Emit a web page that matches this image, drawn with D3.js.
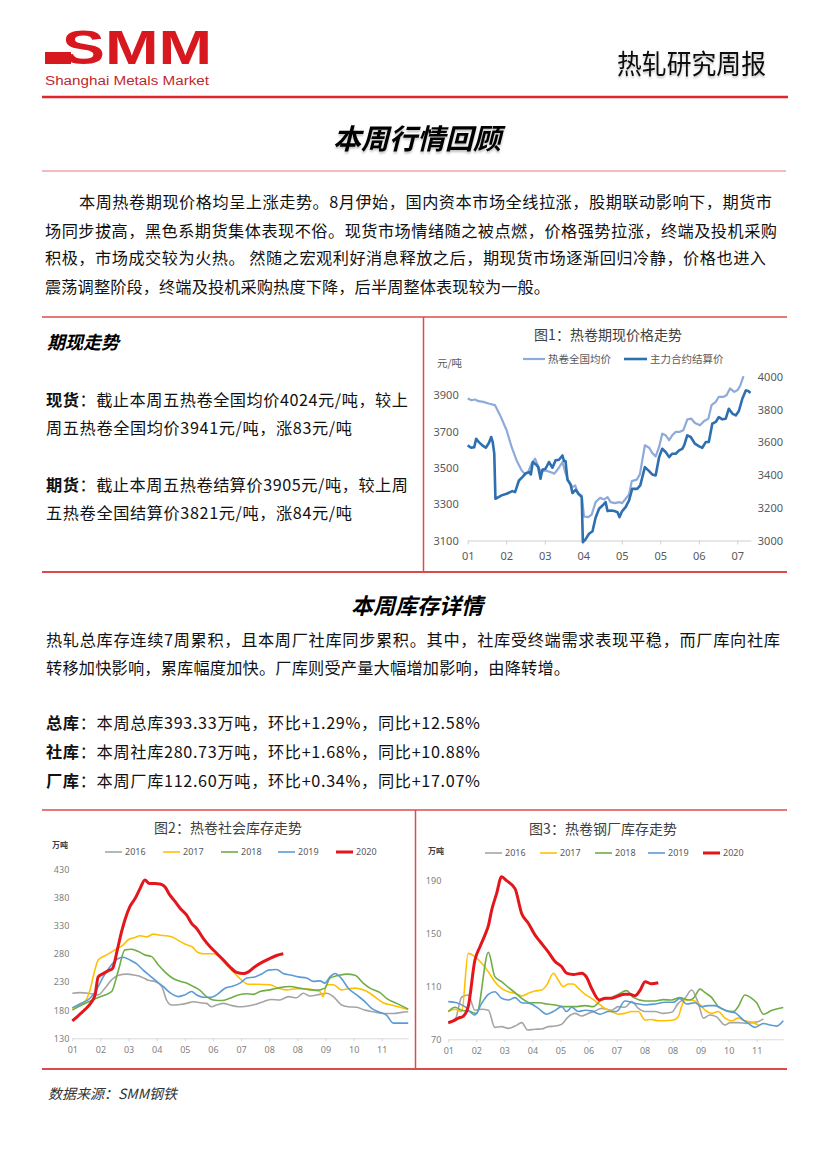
<!DOCTYPE html>
<html><head><meta charset="utf-8">
<script src="https://cdn.jsdelivr.net/npm/d3@7/dist/d3.min.js"></script>
<style>
body{margin:0;background:#fff;}
svg{display:block;}
text{font-family:'Noto Sans CJK SC','Noto Sans',sans-serif;}
</style></head>
<body>
<script>
// ---------------- DATA ----------------
// Figure 1: hot-rolled coil spot vs futures price (t = position in x-label units)
const fig1Labels = ["01","02","03","04","05","05","06","07"];
const fig1LeftTicks = [3100,3300,3500,3700,3900];
const fig1RightTicks = [3000,3200,3400,3600,3800,4000];
const spotPrice = [[0,3882],[0.10,3872],[0.19,3876],[0.28,3867],[0.41,3863],[0.54,3854],[0.71,3845],[0.84,3790],[1.01,3707],[1.14,3615],[1.27,3541],[1.40,3486],[1.49,3464],[1.57,3477],[1.66,3523],[1.75,3551],[1.82,3514],[1.90,3477],[2.01,3486],[2.14,3477],[2.25,3468],[2.35,3495],[2.46,3532],[2.53,3477],[2.61,3431],[2.72,3394],[2.79,3403],[2.87,3357],[2.96,3348],[3.02,3232],[3.13,3229],[3.22,3243],[3.32,3311],[3.44,3335],[3.54,3326],[3.63,3339],[3.71,3311],[3.82,3306],[3.93,3311],[4.01,3306],[4.10,3330],[4.19,3354],[4.26,3427],[4.39,3435],[4.47,3464],[4.60,3624],[4.71,3611],[4.79,3582],[4.88,3563],[4.97,3615],[5.05,3688],[5.14,3679],[5.23,3652],[5.31,3679],[5.40,3698],[5.51,3698],[5.60,3707],[5.70,3766],[5.80,3771],[5.90,3747],[6.03,3734],[6.14,3758],[6.25,3771],[6.33,3845],[6.44,3863],[6.52,3891],[6.64,3891],[6.72,3900],[6.81,3937],[6.92,3918],[7.01,3928],[7.08,3955],[7.16,4005]];
const futuresPrice = [[0,3582],[0.09,3567],[0.17,3571],[0.22,3622],[0.29,3602],[0.38,3582],[0.47,3567],[0.55,3596],[0.61,3633],[0.65,3602],[0.69,3531],[0.72,3255],[0.88,3276],[1.01,3286],[1.16,3302],[1.23,3296],[1.33,3367],[1.42,3388],[1.51,3412],[1.59,3418],[1.64,3404],[1.69,3480],[1.77,3465],[1.83,3449],[1.89,3378],[1.94,3433],[2.02,3439],[2.11,3480],[2.20,3445],[2.28,3490],[2.37,3494],[2.46,3520],[2.50,3486],[2.54,3486],[2.59,3371],[2.67,3343],[2.72,3290],[2.80,3310],[2.89,3282],[2.96,3265],[2.99,2990],[3.05,3004],[3.15,3041],[3.24,3057],[3.32,3139],[3.41,3194],[3.50,3214],[3.58,3235],[3.63,3180],[3.72,3184],[3.81,3180],[3.89,3173],[3.94,3143],[4.01,3180],[4.10,3204],[4.19,3245],[4.27,3316],[4.40,3316],[4.48,3337],[4.60,3449],[4.69,3429],[4.79,3404],[4.88,3398],[4.97,3510],[5.05,3561],[5.14,3541],[5.23,3510],[5.31,3531],[5.40,3531],[5.49,3551],[5.57,3561],[5.62,3582],[5.70,3643],[5.79,3633],[5.90,3592],[6.01,3576],[6.09,3567],[6.18,3602],[6.26,3602],[6.35,3714],[6.44,3725],[6.52,3755],[6.61,3741],[6.70,3745],[6.78,3806],[6.87,3776],[6.96,3765],[7.04,3792],[7.13,3867],[7.22,3918],[7.29,3914],[7.34,3902]];

// Figure 2: social inventory (万吨)
const invLabels = ["01","02","03","04","05","06","07","08","08","09","10","11"];
const years = ["2016","2017","2018","2019","2020"];
const fig2Ticks = [130,180,230,280,330,380,430];
const social2016 = [[0,210],[0.27,211],[0.57,210],[0.92,207],[1.16,219],[1.40,234],[1.64,242],[1.93,244],[2.23,242],[2.46,239],[2.70,233],[2.94,231],[3.18,222],[3.35,198],[3.53,189],[3.83,190],[4.06,192],[4.30,195],[4.54,193],[4.77,192],[4.95,186],[5.13,189],[5.37,192],[5.60,189],[5.90,186],[6.20,187],[6.49,190],[6.79,195],[7.09,199],[7.38,198],[7.68,204],[7.97,202],[8.21,210],[8.45,205],[8.80,208],[9.04,210],[9.28,204],[9.57,189],[9.81,186],[10.11,185],[10.40,180],[10.70,177],[11.05,174],[11.41,174],[11.71,176],[11.94,177]];
const social2017 = [[0,183],[0.21,189],[0.45,195],[0.63,216],[0.77,245],[0.92,269],[1.22,278],[1.52,287],[1.81,296],[1.99,305],[2.23,309],[2.41,312],[2.64,310],[2.88,315],[3.12,313],[3.35,312],[3.59,309],[3.83,302],[4.06,296],[4.24,293],[4.48,282],[4.72,280],[5.01,280],[5.19,276],[5.37,266],[5.66,251],[5.96,236],[6.26,226],[6.55,226],[7.03,225],[7.32,219],[7.62,216],[7.97,218],[8.27,218],[8.57,216],[8.80,213],[8.92,204],[9.04,225],[9.28,225],[9.57,216],[9.81,218],[10.05,219],[10.34,216],[10.58,210],[10.82,201],[11.05,193],[11.35,189],[11.65,185],[11.94,181]];
const social2018 = [[0,180],[0.21,186],[0.51,193],[0.86,201],[1.16,207],[1.40,213],[1.64,251],[1.87,287],[2.11,288],[2.35,284],[2.58,278],[2.82,275],[3.06,260],[3.29,248],[3.53,238],[3.77,232],[4.06,228],[4.30,222],[4.54,215],[4.77,204],[5.01,198],[5.31,197],[5.60,201],[5.90,207],[6.20,209],[6.43,208],[6.67,213],[7.03,216],[7.38,220],[7.74,222],[8.09,219],[8.33,217],[8.68,215],[8.98,219],[9.16,237],[9.40,241],[9.75,244],[10.05,242],[10.34,228],[10.58,219],[10.94,211],[11.17,201],[11.53,192],[11.94,182]];
const social2019 = [[0,184],[0.27,191],[0.63,201],[0.86,216],[1.10,239],[1.34,257],[1.58,270],[1.81,274],[2.05,269],[2.29,262],[2.52,251],[2.76,241],[3.00,231],[3.23,222],[3.47,211],[3.77,204],[4.00,207],[4.24,213],[4.42,207],[4.66,203],[4.95,203],[5.13,207],[5.43,219],[5.66,222],[5.96,228],[6.20,237],[6.49,239],[6.73,244],[6.97,251],[7.26,252],[7.50,245],[7.80,242],[8.03,239],[8.33,237],[8.57,231],[8.80,232],[8.98,228],[9.16,239],[9.34,245],[9.57,236],[9.81,219],[10.11,207],[10.40,195],[10.64,183],[10.88,177],[11.17,171],[11.41,157],[11.65,157],[11.94,157]];
const social2020 = [[0,161],[0.21,170],[0.45,181],[0.69,195],[0.81,207],[0.92,239],[1.10,245],[1.28,250],[1.43,254],[1.60,287],[1.75,319],[1.87,340],[2.05,364],[2.23,378],[2.41,396],[2.58,411],[2.74,405],[2.94,405],[3.12,404],[3.29,399],[3.47,384],[3.65,373],[3.83,361],[4.06,349],[4.24,334],[4.42,325],[4.66,307],[4.89,293],[5.13,281],[5.37,269],[5.60,257],[5.84,247],[6.08,245],[6.26,248],[6.49,257],[6.79,266],[7.03,272],[7.26,277],[7.50,280]];

// Figure 3: steel mill inventory (万吨)
const fig3Ticks = [70,110,150,190];
const mill2016 = [[0,82],[0.24,84.6],[0.48,102],[0.71,103.5],[0.95,92],[1.19,92.7],[1.43,92],[1.66,79],[1.90,79.6],[2.14,78.3],[2.38,80],[2.62,82.6],[2.83,77],[3.09,77.6],[3.33,77.8],[3.57,79.6],[3.80,80],[4.04,81.3],[4.28,87],[4.52,89.6],[4.76,87.6],[4.99,89.6],[5.23,91.4],[5.47,93.4],[5.83,92],[6.06,94.7],[6.30,94.2],[6.54,98.5],[6.78,93.4],[7.02,91],[7.37,91],[7.67,89.6],[7.97,90.4],[8.20,97.2],[8.44,101],[8.68,107.3],[8.92,97.2],[9.10,86],[9.33,88.4],[9.57,87],[9.87,80.8],[10.05,82.6],[10.34,82.6],[10.64,82],[10.82,82.6],[11.06,83.4],[11.24,85.4]];
const mill2017 = [[0,91],[0.24,92.7],[0.48,91],[0.71,135],[0.95,132.5],[1.19,127.5],[1.43,121],[1.66,113.6],[1.90,108.6],[2.14,106],[2.38,104.8],[2.62,102.8],[2.85,104.8],[3.09,106.5],[3.33,107.3],[3.51,111],[3.75,120],[3.92,114.9],[4.10,109.8],[4.28,111.8],[4.46,111.8],[4.64,108.6],[4.88,104],[5.11,101],[5.35,97.2],[5.59,93.4],[5.83,91],[6.06,89],[6.30,89.6],[6.54,91],[6.78,91],[7.02,84.6],[7.25,85],[7.49,84],[7.73,84],[8.03,84.6],[8.20,87],[8.32,94.7],[8.44,100],[8.68,99.7],[8.92,97.2],[9.16,92],[9.39,89.6],[9.63,91],[9.87,86],[10.11,84],[10.34,86],[10.58,84],[10.82,83],[11.06,80.8]];
const mill2018 = [[0,91],[0.24,94.2],[0.48,92],[0.77,91],[1.01,89.6],[1.43,135.8],[1.66,117.4],[1.90,113.6],[2.14,109.3],[2.38,105.3],[2.62,101],[2.91,97.7],[3.27,97.7],[3.51,96.7],[3.80,96],[4.16,94.7],[4.52,94.7],[4.88,95.5],[5.17,94.7],[5.47,100],[5.83,101.7],[6.06,104],[6.36,106.8],[6.60,101.7],[7.02,99],[7.37,99],[7.67,100],[7.97,99.7],[8.26,101.5],[8.56,99.7],[8.74,101],[8.98,108],[9.16,105.3],[9.39,101.7],[9.63,94.7],[9.87,92],[10.17,91],[10.34,94.7],[10.58,103.5],[10.82,101],[11.00,97.7],[11.24,89],[11.53,91.7],[11.95,94]];
const mill2019 = [[0,98.5],[0.30,97.7],[0.59,94.7],[0.95,88.4],[1.19,97.2],[1.43,104],[1.66,106],[1.90,101],[2.14,99.7],[2.38,101.5],[2.62,97.7],[2.91,97.2],[3.21,93.4],[3.51,89],[3.80,91.7],[4.04,94.7],[4.22,91],[4.40,94.2],[4.64,91],[4.88,92],[5.11,91.5],[5.41,89],[5.71,91],[6.00,91],[6.30,99],[6.66,97.2],[7.02,96],[7.37,96.7],[7.73,98],[8.03,98],[8.26,101],[8.50,96.7],[8.80,97.7],[9.04,94.7],[9.27,95.5],[9.51,95.5],[9.75,93.4],[9.99,91],[10.23,90],[10.52,84.6],[10.70,82],[10.94,79],[11.24,82],[11.47,80.8],[11.71,80],[11.95,84]];
const mill2020 = [[0,82.6],[0.18,84],[0.36,86],[0.54,87.6],[0.71,94.7],[0.95,130],[1.13,140],[1.31,149],[1.43,156],[1.55,168],[1.72,180],[1.90,193],[2.08,190],[2.38,184],[2.62,165],[2.85,158],[3.09,149],[3.27,144],[3.57,136],[3.80,129],[4.04,125],[4.22,120],[4.46,119],[4.76,120],[4.93,117],[5.11,108.6],[5.39,99.7],[5.59,101],[5.83,101],[6.06,102.8],[6.30,104],[6.48,104],[6.66,103],[6.84,107],[7.02,113.6],[7.25,112],[7.49,112.8]];

// ---------------- TEXT ----------------
const introLines = [
  "本周热卷期现价格均呈上涨走势。8月伊始，国内资本市场全线拉涨，股期联动影响下，期货市",
  "场同步拔高，黑色系期货集体表现不俗。现货市场情绪随之被点燃，价格强势拉涨，终端及投机采购",
  "积极，市场成交较为火热。 然随之宏观利好消息释放之后，期现货市场逐渐回归冷静，价格也进入",
  "震荡调整阶段，终端及投机采购热度下降，后半周整体表现较为一般。"
];
const invText = [
  "热轧总库存连续7周累积，且本周厂社库同步累积。其中，社库受终端需求表现平稳，而厂库向社库",
  "转移加快影响，累库幅度加快。厂库则受产量大幅增加影响，由降转增。"
];
const invStats = [
  ["总库：","本周总库393.33万吨，环比+1.29%，同比+12.58%"],
  ["社库：","本周社库280.73万吨，环比+1.68%，同比+10.88%"],
  ["厂库：","本周厂库112.60万吨，环比+0.34%，同比+17.07%"]
];

// ---------------- DRAW ----------------
const svg = d3.select("body").append("svg").attr("width",827).attr("height",1170);
const defs = svg.append("defs");
const f = defs.append("filter").attr("id","soft").attr("x","-10%").attr("y","-10%").attr("width","120%").attr("height","140%");
f.append("feDropShadow").attr("dx",0).attr("dy",2).attr("stdDeviation",1.2).attr("flood-color","#000").attr("flood-opacity",0.25);

const RED = "#e0262b";
const BOXRED = "#dc4b4b";

// Logo
svg.append("rect").attr("x",45).attr("y",52).attr("width",26).attr("height",12).attr("fill","#d7191f");
svg.append("text").attr("x",62).attr("y",64)
  .style("font-family","'Liberation Sans',Arial,sans-serif")
  .attr("font-size",49).attr("font-weight","bold").attr("fill","#d7191f")
  .attr("textLength",150).attr("lengthAdjust","spacingAndGlyphs").text("SMM");
svg.append("text").attr("x",45).attr("y",85).style("font-family","'Liberation Sans',Arial,sans-serif")
  .attr("font-size",12).attr("fill","#c1272d").attr("textLength",164).attr("lengthAdjust","spacingAndGlyphs")
  .text("Shanghai Metals Market");

// Report name
svg.append("text").attr("x",617).attr("y",74).attr("font-size",27).attr("fill","#111").attr("filter","url(#soft)")
  .attr("textLength",149).attr("lengthAdjust","spacingAndGlyphs").text("热轧研究周报");

svg.append("line").attr("x1",42).attr("x2",788).attr("y1",97).attr("y2",97).attr("stroke",RED).attr("stroke-width",2.5);

// Main title
svg.append("text").attr("x",417).attr("y",149).attr("text-anchor","middle").attr("font-size",28).attr("filter","url(#soft)")
  .attr("font-weight","bold").attr("font-style","italic").attr("fill","#000").text("本周行情回顾");

svg.append("line").attr("x1",42).attr("x2",786).attr("y1",171).attr("y2",171).attr("stroke","#e87a7a").attr("stroke-width",1.2);

// Intro paragraph
const introY = [207.5,237,264,292.5];
const introX = [79,45,45,45];
const introLen = [693,732,721,505];
introLines.forEach((s,i)=>{
  const t = svg.append("text").attr("x",introX[i]).attr("y",introY[i]).attr("font-size",16.2).attr("fill","#111").text(s);
  if(introLen[i]) t.attr("textLength",introLen[i]).attr("lengthAdjust","spacing");
});

// Box 1
svg.append("line").attr("x1",42).attr("x2",787).attr("y1",317).attr("y2",317).attr("stroke",BOXRED).attr("stroke-width",1.5);
svg.append("line").attr("x1",42).attr("x2",787).attr("y1",572).attr("y2",572).attr("stroke",BOXRED).attr("stroke-width",2);
svg.append("line").attr("x1",423.5).attr("x2",423.5).attr("y1",317).attr("y2",572).attr("stroke",BOXRED).attr("stroke-width",1.5);

svg.append("text").attr("x",47).attr("y",349).attr("font-size",18).attr("font-weight","bold").attr("font-style","italic")
  .attr("fill","#000").text("期现走势");

const leftLines = [
  {b:"现货",r:"：截止本周五热卷全国均价4024元/吨，较上",y:406,len:362},
  {b:"",r:"周五热卷全国均价3941元/吨，涨83元/吨",y:434,len:306},
  {b:"期货",r:"：截止本周五热卷结算价3905元/吨，较上周",y:491,len:362},
  {b:"",r:"五热卷全国结算价3821元/吨，涨84元/吨",y:519,len:306}
];
leftLines.forEach(l=>{
  const t = svg.append("text").attr("x",46).attr("y",l.y).attr("font-size",16.2).attr("fill","#111");
  if(l.b) t.append("tspan").attr("font-weight","bold").text(l.b);
  t.append("tspan").text(l.r);
  if(l.len) t.attr("textLength",l.len).attr("lengthAdjust","spacing");
});

// ---------- Figure 1 ----------
(function(){
  const x = d3.scaleLinear().domain([0,7.35]).range([467.7,750.8]);
  const yL = d3.scaleLinear().domain([3100,4000]).range([540.5,377]);
  const yR = d3.scaleLinear().domain([3000,4000]).range([540.5,377]);
  const c = svg.append("g");
  c.append("text").attr("x",608).attr("y",340).attr("text-anchor","middle").attr("font-size",14).attr("fill","#404040").text("图1：热卷期现价格走势");
  c.append("text").attr("x",437).attr("y",367).attr("font-size",10.5).attr("fill","#595959").text("元/吨");
  // legend
  c.append("line").attr("x1",523).attr("x2",545).attr("y1",359).attr("y2",359).attr("stroke","#8eaadb").attr("stroke-width",2.2);
  c.append("text").attr("x",548).attr("y",363).attr("font-size",10.5).attr("fill","#595959").text("热卷全国均价");
  c.append("line").attr("x1",624).attr("x2",647).attr("y1",359).attr("y2",359).attr("stroke","#2e6fb0").attr("stroke-width",2.6);
  c.append("text").attr("x",650).attr("y",363).attr("font-size",10.5).attr("fill","#595959").text("主力合约结算价");
  // axes
  const ax = c.append("g").attr("transform","translate(0,540.5)")
    .call(d3.axisBottom(x).tickValues(d3.range(fig1Labels.length)).tickFormat(i=>fig1Labels[i]).tickSize(4).tickPadding(8).tickSizeOuter(0));
  ax.select(".domain").attr("stroke","#d0d0d0");
  ax.selectAll(".tick line").attr("stroke","#d0d0d0");
  ax.selectAll("text").attr("font-size",11).attr("fill","#595959").style("font-family","'Noto Sans','DejaVu Sans',sans-serif");
  const ayl = c.append("g").attr("transform","translate(467.7,0)")
    .call(d3.axisLeft(yL).tickValues(fig1LeftTicks).tickFormat(d3.format("d")).tickSize(0).tickPadding(9));
  ayl.select(".domain").remove();
  ayl.selectAll("text").attr("font-size",11).attr("fill","#595959").style("font-family","'Noto Sans','DejaVu Sans',sans-serif");
  const ayr = c.append("g").attr("transform","translate(750.8,0)")
    .call(d3.axisRight(yR).tickValues(fig1RightTicks).tickFormat(d3.format("d")).tickSize(0).tickPadding(7));
  ayr.select(".domain").remove();
  ayr.selectAll("text").attr("font-size",11).attr("fill","#595959").style("font-family","'Noto Sans','DejaVu Sans',sans-serif");
  // lines
  c.append("path").datum(spotPrice).attr("fill","none").attr("stroke","#8eaadb").attr("stroke-width",2.2).attr("stroke-linejoin","round")
    .attr("d",d3.line().x(d=>x(d[0])).y(d=>yL(d[1])));
  c.append("path").datum(futuresPrice).attr("fill","none").attr("stroke","#2e6fb0").attr("stroke-width",2.6).attr("stroke-linejoin","round")
    .attr("d",d3.line().x(d=>x(d[0])).y(d=>yR(d[1])));
})();

// Section 2
svg.append("text").attr("x",417).attr("y",614).attr("text-anchor","middle").attr("font-size",22).attr("font-weight","bold")
  .attr("font-style","italic").attr("fill","#000").text("本周库存详情");
const invY = [646,674];
const invLen = [734,524];
invText.forEach((s,i)=>{
  svg.append("text").attr("x",46).attr("y",invY[i]).attr("font-size",16.2).attr("fill","#111").text(s)
    .attr("textLength",invLen[i]).attr("lengthAdjust","spacing");
});
const statY = [729,758,787];
invStats.forEach((s,i)=>{
  const t = svg.append("text").attr("x",46).attr("y",statY[i]).attr("font-size",16.2).attr("fill","#111")
    .attr("textLength",434).attr("lengthAdjust","spacing");
  t.append("tspan").attr("font-weight","bold").text(s[0].slice(0,2));
  t.append("tspan").text(s[0].slice(2)+s[1]);
});

// Box 2
svg.append("line").attr("x1",42).attr("x2",787).attr("y1",810).attr("y2",810).attr("stroke",BOXRED).attr("stroke-width",1.5);
svg.append("line").attr("x1",42).attr("x2",787).attr("y1",1069).attr("y2",1069).attr("stroke",BOXRED).attr("stroke-width",2);
svg.append("line").attr("x1",415.5).attr("x2",415.5).attr("y1",810).attr("y2",1069).attr("stroke",BOXRED).attr("stroke-width",1.5);

const yearColors = {"2016":"#a5a5a5","2017":"#ffc000","2018":"#70ad47","2019":"#5b9bd5","2020":"#e3161c"};
const yearWidths = {"2016":1.6,"2017":1.6,"2018":1.6,"2019":1.6,"2020":3};

function invChart(o){
  const x = d3.scaleLinear().domain([0,o.xmax]).range([o.x0,o.x1]);
  const y = d3.scaleLinear().domain(o.ydom).range(o.yrng);
  const c = svg.append("g");
  c.append("text").attr("x",o.titleX).attr("y",o.titleY).attr("text-anchor","middle").attr("font-size",14).attr("fill","#404040").text(o.title);
  c.append("text").attr("x",o.unitX).attr("y",o.unitY).attr("font-size",8).attr("font-weight","bold").attr("fill","#404040").text("万吨");
  years.forEach((yr,i)=>{
    c.append("line").attr("x1",o.legX[i]).attr("x2",o.legX[i]+17).attr("y1",o.legY).attr("y2",o.legY)
      .attr("stroke",yearColors[yr]).attr("stroke-width",yearWidths[yr]);
    c.append("text").attr("x",o.legX[i]+20).attr("y",o.legY+3.2).attr("font-size",9).attr("fill","#595959")
      .style("font-family","'Liberation Sans Narrow','Noto Sans',sans-serif").text(yr);
  });
  const ax = c.append("g").attr("transform",`translate(0,${o.yrng[0]})`)
    .call(d3.axisBottom(x).tickValues(d3.range(invLabels.length)).tickFormat(i=>invLabels[i]).tickSize(3).tickPadding(5).tickSizeOuter(0));
  ax.select(".domain").attr("stroke","#d9d9d9");
  ax.selectAll(".tick line").attr("stroke","#d9d9d9");
  ax.selectAll("text").attr("font-size",9).attr("fill","#7f7f7f").style("font-family","'Liberation Sans Narrow','Noto Sans',sans-serif");
  const ay = c.append("g").attr("transform",`translate(${o.x0},0)`)
    .call(d3.axisLeft(y).tickValues(o.ticks).tickSize(0).tickPadding(o.pad));
  ay.select(".domain").remove();
  ay.selectAll("text").attr("font-size",9).attr("fill","#7f7f7f").style("font-family","'Liberation Sans Narrow','Noto Sans',sans-serif");
  const line = d3.line().x(d=>x(d[0])).y(d=>y(d[1])).curve(d3.curveMonotoneX);
  years.forEach((yr,i)=>{
    c.append("path").datum(o.series[i]).attr("fill","none").attr("stroke",yearColors[yr])
      .attr("stroke-width",yearWidths[yr]).attr("stroke-linejoin","round").attr("d",line);
  });
}

invChart({title:"图2：热卷社会库存走势",titleX:228,titleY:833,unitX:52,unitY:848,
  legX:[105,163,221,278,336],legY:852,xmax:11.94,x0:72.3,x1:408.2,ydom:[130,430],yrng:[1038.3,869.3],
  ticks:fig2Ticks,pad:3,series:[social2016,social2017,social2018,social2019,social2020]});
invChart({title:"图3：热卷钢厂库存走势",titleX:603,titleY:834,unitX:428,unitY:854,
  legX:[485,540,595,648,703],legY:853,xmax:11.95,x0:448.3,x1:783.3,ydom:[70,190],yrng:[1039.3,880.7],
  ticks:fig3Ticks,pad:7,series:[mill2016,mill2017,mill2018,mill2019,mill2020]});

// Source
svg.append("text").attr("x",48).attr("y",1099).attr("font-size",14).attr("font-style","italic").attr("fill","#333").text("数据来源：SMM钢铁");
</script>
</body></html>
